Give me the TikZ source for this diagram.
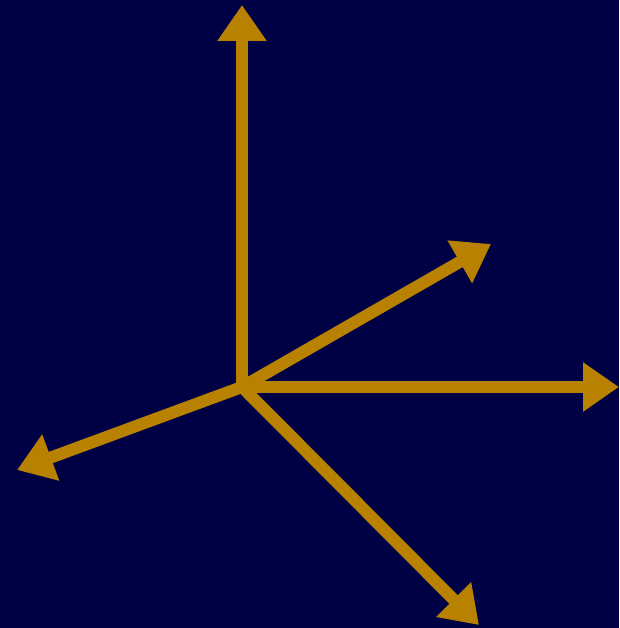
\documentclass[tikz,border=0pt]{standalone}
\usepackage{xcolor}
\usepackage{tikz}
\usetikzlibrary{arrows.meta}
\definecolor{nightbg}{RGB}{0,0,68}
\definecolor{goldc}{RGB}{184,130,0}
\tikzset{
  axr/.style={-{Triangle[length=0.72cm,width=0.94cm]},line width=0.24cm,goldc}
}
\begin{document}
\begin{tikzpicture}[x=0.02cm,y=0.02cm]
\fill[nightbg] (0,0) rectangle (619,628);
\useasboundingbox (0,0) rectangle (619,628);
\coordinate (O) at (242,241);
\coordinate (up) at (242,623);
\coordinate (rt) at (619,241);
\coordinate (ur) at (491,384);
\coordinate (dl) at (17,158);
\coordinate (dr) at (479,3);
\draw[axr] (O)--(up);
\draw[axr] (O)--(rt);
\draw[axr] (O)--(ur);
\draw[axr] (O)--(dl);
\draw[axr] (O)--(dr);
\end{tikzpicture}
\end{document}
